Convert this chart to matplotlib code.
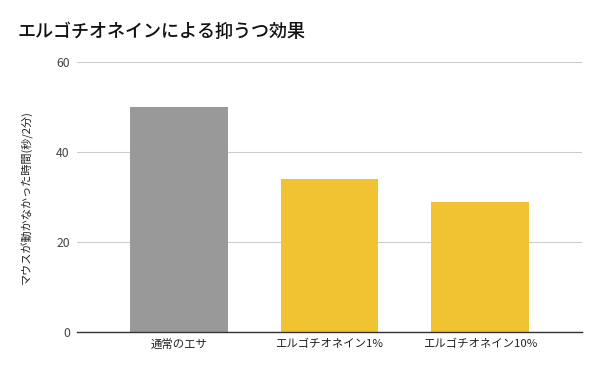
import matplotlib
matplotlib.use("Agg")
import matplotlib.pyplot as plt

plt.rcParams['font.family'] = ['Noto Sans CJK JP', 'DejaVu Sans']

# data
categories = ['通常のエサ', 'エルゴチオネイン1%', 'エルゴチオネイン10%']
values = [50, 34, 29]
bar_colors = ['#999999', '#f1c232', '#f1c232']
y_ticks = [0, 20, 40, 60]

fig = plt.figure(figsize=(6, 3.71), dpi=100)
ax = fig.add_axes([0.128, 0.105, 0.842, 0.728])

x = range(len(categories))
ax.bar(x, values, width=0.65, color=bar_colors, zorder=3)

ax.set_xlim(-0.68, 2.68)
ax.set_ylim(0, 60)
ax.set_yticks(y_ticks)
ax.set_xticks(list(x))
ax.set_xticklabels(categories, fontsize=8.2, color='#222222')
ax.tick_params(axis='y', length=0, pad=5, labelsize=8.8, labelcolor='#444444')
ax.tick_params(axis='x', length=0, pad=5)

ax.grid(axis='y', color='#cccccc', linewidth=0.8, zorder=0)
for s in ['top', 'right', 'left']:
    ax.spines[s].set_visible(False)
ax.spines['bottom'].set_color('#333333')
ax.spines['bottom'].set_linewidth(1.0)
ax.spines['bottom'].set_zorder(4)

ax.set_ylabel('マウスが動かなかった時間(秒/2分)', fontsize=8, color='#222222', labelpad=17)

fig.text(0.03, 0.915, 'エルゴチオネインによる抑うつ効果', fontsize=13,
         fontweight='medium', color='#111111', ha='left', va='center')

fig.savefig('out.png', dpi=100)
